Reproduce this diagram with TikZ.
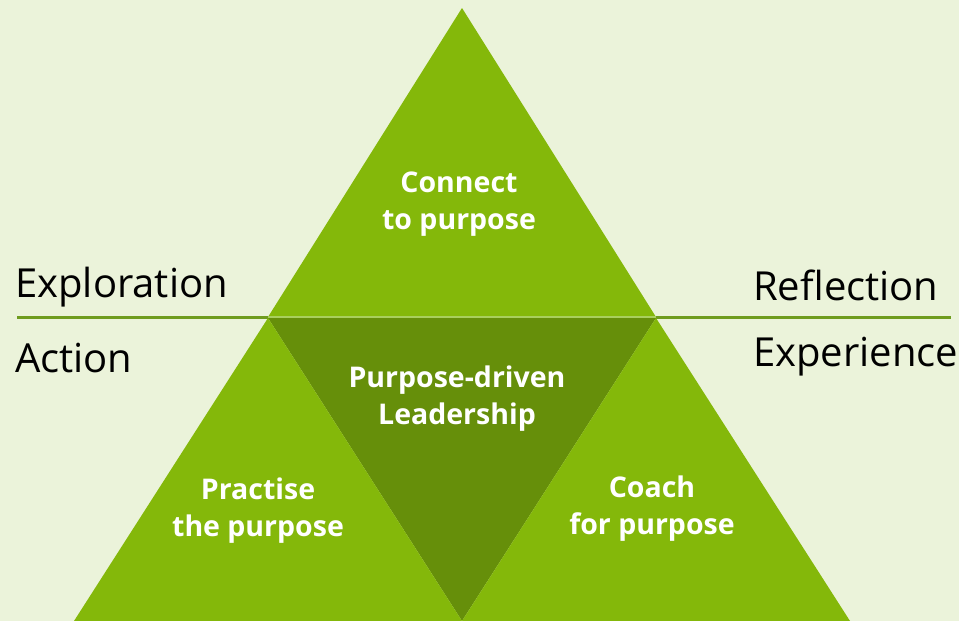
\documentclass[tikz,border=0pt]{standalone}
\usepackage{fontspec}
\setmainfont{Open Sans}
\definecolor{bg}{HTML}{EBF3DA}
\definecolor{lightg}{HTML}{84B80A}
\definecolor{darkg}{HTML}{668F0A}
\definecolor{lineg}{HTML}{6F9C1E}
\definecolor{pale}{HTML}{A9CF5E}
\tikzset{
  side/.style={font=\fontsize{40}{46}\selectfont, text=black, inner sep=0pt},
  inlabel/.style={font=\fontsize{28.5}{37}\selectfont\bfseries, text=white, align=center, inner sep=0pt},
}
\begin{document}
\begin{tikzpicture}[x=1pt,y=-1pt]
\fill[bg] (0,0) rectangle (959,621);
\useasboundingbox (0,0) rectangle (959,621);
\draw[lineg, line width=2.5pt] (17,317.5) -- (951,317.5);
\fill[lightg] (268,317) -- (462,8) -- (656,317) -- cycle;
\fill[darkg] (268,318) -- (656,318) -- (462,621) -- cycle;
\fill[lightg] (268,318) -- (462,621) -- (74,621) -- cycle;
\fill[lightg] (656,318) -- (850,621) -- (462,621) -- cycle;
\draw[pale, line width=1.2pt] (268,317) -- (656,317);
\node[inlabel] (top) at (459,204) {Connect\\to purpose};
\node[inlabel] (mid) at (457,399) {Purpose-driven\\Leadership};
\node[inlabel] (left) at (258,511) {Practise\\the purpose};
\node[inlabel] (right) at (652,509) {Coach\\for purpose};
\node[side, anchor=west] (expl) at (15,287) {Exploration};
\node[side, anchor=west] (act) at (15,358) {Action};
\node[side, anchor=west] (refl) at (753,285) {Reflection};
\node[side, anchor=west] (exp) at (753,357) {Experience};
\end{tikzpicture}
\end{document}
